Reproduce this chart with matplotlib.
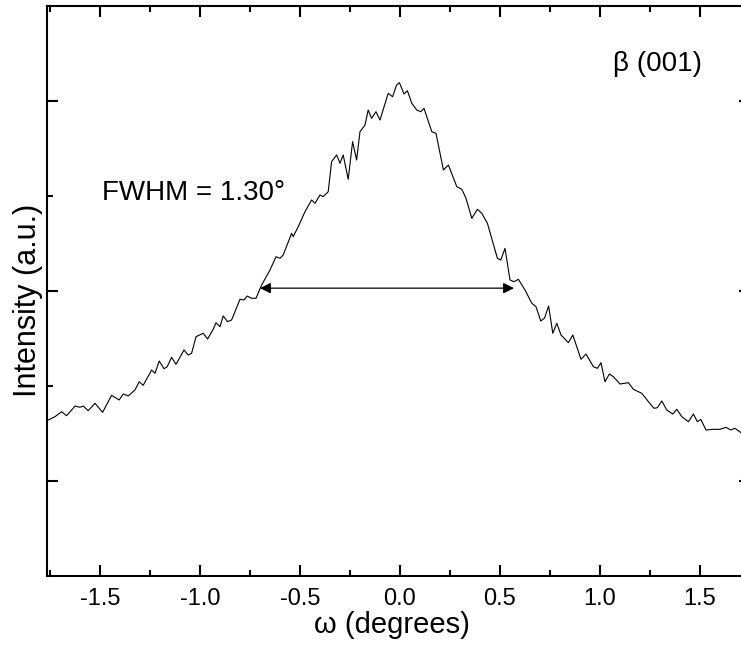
import matplotlib
matplotlib.use("Agg")
import matplotlib.pyplot as plt
from matplotlib.ticker import FixedLocator

plt.rcParams['font.family'] = ['Liberation Sans', 'DejaVu Sans']

omega = [-1.759, -1.725, -1.692, -1.667, -1.625, -1.600, -1.584, -1.559, -1.525, -1.487,
         -1.442, -1.404, -1.384, -1.359, -1.325, -1.304, -1.284, -1.242, -1.225, -1.204,
         -1.180, -1.164, -1.142, -1.120, -1.080, -1.059, -1.042, -1.020, -0.984, -0.962,
         -0.934, -0.920, -0.900, -0.884, -0.862, -0.842, -0.800, -0.780, -0.764, -0.742,
         -0.720, -0.692, -0.670, -0.650, -0.620, -0.600, -0.584, -0.542, -0.534, -0.509,
         -0.475, -0.442, -0.425, -0.400, -0.384, -0.359, -0.342, -0.317, -0.300, -0.284,
         -0.259, -0.237, -0.217, -0.200, -0.175, -0.159, -0.142, -0.120, -0.100, -0.059,
         -0.037, -0.017, -0.003, 0.020, 0.037, 0.059, 0.084, 0.104, 0.120, 0.159,
         0.180, 0.217, 0.242, 0.284, 0.309, 0.330, 0.359, 0.387, 0.409, 0.437,
         0.487, 0.504, 0.525, 0.550, 0.570, 0.592, 0.625, 0.659, 0.680, 0.704,
         0.723, 0.743, 0.764, 0.784, 0.805, 0.842, 0.864, 0.905, 0.930, 0.967,
         0.987, 1.005, 1.025, 1.047, 1.067, 1.100, 1.142, 1.167, 1.209, 1.242,
         1.270, 1.287, 1.309, 1.334, 1.364, 1.384, 1.409, 1.442, 1.467, 1.487,
         1.504, 1.530, 1.567, 1.600, 1.630, 1.654, 1.675, 1.705, 1.740]

intensity = [1.642, 1.677, 1.729, 1.687, 1.789, 1.776, 1.789, 1.740, 1.818, 1.723,
             1.902, 1.853, 1.916, 1.895, 1.958, 2.045, 2.007, 2.168, 2.134, 2.263,
             2.182, 2.203, 2.302, 2.228, 2.379, 2.326, 2.344, 2.519, 2.555, 2.495,
             2.597, 2.666, 2.624, 2.737, 2.677, 2.695, 2.913, 2.905, 2.947, 2.923,
             2.923, 3.063, 3.147, 3.221, 3.361, 3.344, 3.379, 3.607, 3.572, 3.677,
             3.835, 3.958, 3.923, 4.011, 3.993, 4.045, 4.361, 4.432, 4.344, 4.432,
             4.176, 4.572, 4.379, 4.677, 4.747, 4.905, 4.818, 4.887, 4.800, 5.081,
             5.045, 5.168, 5.193, 5.074, 5.108, 4.976, 4.905, 4.887, 4.923, 4.677,
             4.660, 4.274, 4.326, 4.098, 4.071, 3.976, 3.765, 3.860, 3.818, 3.713,
             3.344, 3.326, 3.449, 3.116, 3.098, 3.123, 3.011, 2.871, 2.835, 2.684,
             2.716, 2.842, 2.555, 2.660, 2.537, 2.456, 2.537, 2.281, 2.337, 2.203,
             2.186, 2.245, 2.045, 2.126, 2.098, 2.021, 2.035, 1.965, 1.923, 1.835,
             1.765, 1.772, 1.842, 1.747, 1.705, 1.755, 1.677, 1.624, 1.705, 1.624,
             1.649, 1.537, 1.544, 1.544, 1.565, 1.537, 1.555, 1.508, 1.526]

x_ticks = [-1.5, -1.0, -0.5, 0.0, 0.5, 1.0, 1.5]
x_tick_labels = ["-1.5", "-1.0", "-0.5", "0.0", "0.5", "1.0", "1.5"]
x_minor = [-1.75, -1.25, -0.75, -0.25, 0.25, 0.75, 1.25, 1.75]
y_major = [1, 3, 5]
y_minor = [2, 4]

fwhm_left, fwhm_right, half_max = -0.70, 0.57, 3.03

fig = plt.figure(figsize=(7.41, 6.47), dpi=100)
ax = fig.add_axes([47 / 741, 71 / 647, 703 / 741, 570 / 647])

ax.plot(omega, intensity, color='black', lw=0.8)

ax.annotate('', xy=(fwhm_left, half_max), xytext=(fwhm_right, half_max),
            arrowprops=dict(arrowstyle='<|-|>', color='black', lw=0.9,
                            mutation_scale=16, shrinkA=0, shrinkB=0))

ax.text(-1.49, 3.96, 'FWHM = 1.30°', fontsize=20, ha='left', va='baseline')
ax.text(1.065, 5.32, 'β (001)', fontsize=20, ha='left', va='baseline')

ax.set_xlim(-1.765, 1.75)
ax.set_ylim(0, 6)
ax.set_xticks(x_ticks)
ax.set_xticklabels(x_tick_labels)
ax.xaxis.set_minor_locator(FixedLocator(x_minor))
ax.set_yticks(y_major)
ax.yaxis.set_minor_locator(FixedLocator(y_minor))
ax.tick_params(axis='both', which='both', direction='in', top=True, right=True, width=1.5)
ax.tick_params(axis='both', which='major', length=8)
ax.tick_params(axis='both', which='minor', length=4.5)
ax.tick_params(axis='x', labelsize=17, pad=8.5)
ax.tick_params(axis='y', labelleft=False)
for s in ax.spines.values():
    s.set_linewidth(1.5)

ax.set_xlabel('ω (degrees)', fontsize=21)
ax.xaxis.set_label_coords(0.491, -0.061)
ax.set_ylabel('Intensity (a.u.)', fontsize=22)
ax.yaxis.set_label_coords(-0.005, 0.484)

fig.savefig('out.png', dpi=100)
